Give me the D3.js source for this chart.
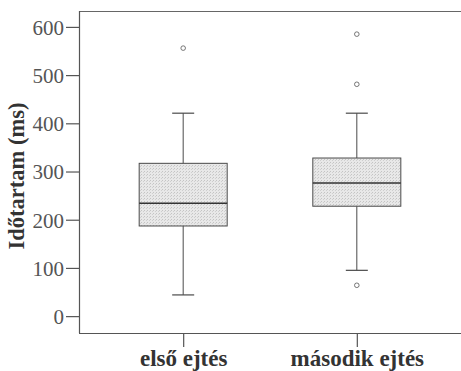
<!DOCTYPE html>
<html><head><meta charset="utf-8">
<script src="https://cdn.jsdelivr.net/npm/d3@7"></script>
<style>html,body{margin:0;padding:0;background:#fff;} svg{display:block;}</style>
</head><body><svg id="c" width="461" height="371"></svg>
<script>
const categories = ["első ejtés", "második ejtés"];
const whiskerLow = [44, 95];
const q1 = [187, 228];
const median = [234, 276];
const q3 = [317, 328];
const whiskerHigh = [421, 421];
const outliers = [[556], [585, 481, 64]];
const yTicks = [0, 100, 200, 300, 400, 500, 600];

const svg = d3.select("#c");
const mLeft = 79, mRight = 461, mTop = 11, mBottom = 333;
const y = d3.scaleLinear().domain([-35, 633]).range([mBottom, mTop]);
const x = d3.scalePoint().domain(categories).range([mLeft, mRight]).padding(0.6);
const boxHalf = 44, capHalf = 11;
const ink = "#4a4a4a";

const defs = svg.append("defs");
const pat = defs.append("pattern").attr("id","dots").attr("width",3).attr("height",3).attr("patternUnits","userSpaceOnUse");
pat.append("rect").attr("width",3).attr("height",3).attr("fill","#e8e8e8");
pat.append("rect").attr("x",0).attr("y",0).attr("width",1).attr("height",1).attr("fill","#c4c4c4");
pat.append("rect").attr("x",2).attr("y",1).attr("width",1).attr("height",1).attr("fill","#cfcfcf");

// frame top line
svg.append("line").attr("x1",mLeft).attr("x2",mRight).attr("y1",mTop+0.5).attr("y2",mTop+0.5).attr("stroke","#666").attr("stroke-width",1.2);

// y axis
const yAxis = d3.axisLeft(y).tickValues(yTicks).tickSize(13).tickPadding(2).tickSizeOuter(0);
const gy = svg.append("g").attr("transform",`translate(${mLeft},0)`).call(yAxis);
gy.select(".domain").attr("stroke","#555").attr("stroke-width",1.2).attr("d",`M0.5,${mTop}V${mBottom}`);
gy.selectAll(".tick line").attr("stroke","#555").attr("stroke-width",1.2);
gy.selectAll(".tick text").attr("font-family","'Liberation Serif', serif").attr("font-size",21).attr("fill","#555").attr("dy","0.35em");

// x axis
const xAxis = d3.axisBottom(x).tickSize(14).tickPadding(2).tickSizeOuter(0);
const gx = svg.append("g").attr("transform",`translate(0,${mBottom})`).call(xAxis);
gx.select(".domain").attr("stroke","#555").attr("stroke-width",1.2).attr("d",`M${mLeft},0.5H${mRight}`);
gx.selectAll(".tick line").attr("stroke","#555").attr("stroke-width",1.2);
gx.selectAll(".tick text").attr("font-family","'Liberation Serif', serif").attr("font-size",23).attr("font-weight","bold").attr("fill","#333").attr("dy","0.72em");

// y title
svg.append("text").attr("transform","translate(24,176) rotate(-90)").attr("text-anchor","middle")
  .attr("font-family","'Liberation Serif', serif").attr("font-size",22.5).attr("font-weight","bold").attr("fill","#333")
  .text("Időtartam (ms)");

// boxes
const g = svg.append("g");
categories.forEach((c,i)=>{
  const cx = x(c);
  g.append("line").attr("x1",cx).attr("x2",cx).attr("y1",y(whiskerHigh[i])).attr("y2",y(q3[i])).attr("stroke",ink).attr("stroke-width",1);
  g.append("line").attr("x1",cx).attr("x2",cx).attr("y1",y(q1[i])).attr("y2",y(whiskerLow[i])).attr("stroke",ink).attr("stroke-width",1);
  g.append("line").attr("x1",cx-capHalf).attr("x2",cx+capHalf).attr("y1",y(whiskerHigh[i])).attr("y2",y(whiskerHigh[i])).attr("stroke",ink).attr("stroke-width",1.2);
  g.append("line").attr("x1",cx-capHalf).attr("x2",cx+capHalf).attr("y1",y(whiskerLow[i])).attr("y2",y(whiskerLow[i])).attr("stroke",ink).attr("stroke-width",1.2);
  g.append("rect").attr("x",cx-boxHalf).attr("width",2*boxHalf).attr("y",y(q3[i])).attr("height",y(q1[i])-y(q3[i]))
    .attr("fill","url(#dots)").attr("stroke",ink).attr("stroke-width",1);
  g.append("line").attr("x1",cx-boxHalf).attr("x2",cx+boxHalf).attr("y1",y(median[i])).attr("y2",y(median[i])).attr("stroke","#333").attr("stroke-width",1.5);
  outliers[i].forEach(v=>{
    g.append("circle").attr("cx",cx).attr("cy",y(v)).attr("r",2.3).attr("fill","none").attr("stroke","#666").attr("stroke-width",0.9);
  });
});
</script></body></html>
